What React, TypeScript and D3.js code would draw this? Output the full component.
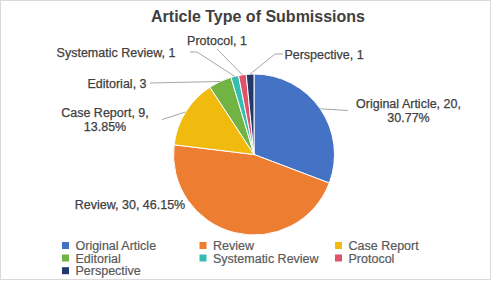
import React from "react";
import * as d3 from "d3";

const categories = [
  "Original Article",
  "Review",
  "Case Report",
  "Editorial",
  "Systematic Review",
  "Protocol",
  "Perspective",
];
const counts = [20, 30, 9, 3, 1, 1, 1];
const showPercent = [true, true, true, false, false, false, false];
const colors = ["#4472C4", "#ED7D31", "#F0BA0E", "#72B443", "#35BDB1", "#E0516A", "#22396A"];
const title = "Article Type of Submissions";

// label layout (positions of label text, leader elbow points)
const labelLayout = [
  { x: 408.5, y: 103, anchor: "middle", split: true, elbow: [[348, 110.5]] },
  { x: 130, y: 204, anchor: "middle", split: false, elbow: null },
  { x: 105, y: 112.5, anchor: "middle", split: true, elbow: [[162, 119.5]] },
  { x: 117, y: 83, anchor: "middle", split: false, elbow: [[150, 83]] },
  { x: 116, y: 52, anchor: "middle", split: false, elbow: [[190, 52], [197, 52]] },
  { x: 217, y: 40, anchor: "middle", split: false, elbow: [[217, 49]] },
  { x: 324, y: 54, anchor: "middle", split: false, elbow: [[283, 54], [275, 54]] },
];

const W = 493;
const H = 281;
const cx = 254;
const cy = 154.5;
const R = 80.5;
const FONT = "'Liberation Sans', Arial, sans-serif";

export default function App() {
  const total = d3.sum(counts);
  const pie = d3.pie<number>().sort(null).value((d) => d).startAngle(0).endAngle(2 * Math.PI);
  const arcs = pie(counts);
  const arcGen = d3.arc<d3.PieArcDatum<number>>().innerRadius(0).outerRadius(R);
  const edgeGen = d3.arc<d3.PieArcDatum<number>>().innerRadius(R).outerRadius(R);
  const fmt = d3.format(".2%");

  const legendCols = [62, 199.5, 335];
  const legendRows = [245.5, 258, 270.7];

  return (
    <svg width={W} height={H} style={{ position: "absolute", left: 0, top: 0 }} fontFamily={FONT}>
      <rect x={0} y={0} width={W} height={H} fill="#ffffff" />
      <rect x={0.5} y={0.5} width={490} height={279} fill="none" stroke="#D9D9D9" strokeWidth={1} />
      <text x={258} y={21.8} textAnchor="middle" fontSize={16} fontWeight="bold" fill="#404040">
        {title}
      </text>
      <g transform={`translate(${cx},${cy})`}>
        {arcs.map((a, i) => (
          <path key={i} d={arcGen(a) || ""} fill={colors[i]} stroke="#ffffff" strokeWidth={1} />
        ))}
      </g>
      {arcs.map((a, i) => {
        const L = labelLayout[i];
        if (!L.elbow) return null;
        const c = edgeGen.centroid(a);
        const pts = [...L.elbow, [c[0] + cx, c[1] + cy]];
        return (
          <polyline
            key={"l" + i}
            points={pts.map((p) => p.join(",")).join(" ")}
            fill="none"
            stroke="#A6A6A6"
            strokeWidth={1}
          />
        );
      })}
      {arcs.map((a, i) => {
        const L = labelLayout[i];
        const base = `${categories[i]}, ${counts[i]}`;
        const pct = fmt(counts[i] / total);
        const common = {
          textAnchor: L.anchor as any,
          fontSize: 12.5,
          fill: "#404040",
          stroke: "#404040",
          strokeWidth: 0.25,
        };
        if (showPercent[i] && L.split) {
          return (
            <text key={"t" + i} {...common}>
              <tspan x={L.x} y={L.y + 4.5}>{base + ","}</tspan>
              <tspan x={L.x} y={L.y + 18.5}>{pct}</tspan>
            </text>
          );
        }
        const txt = showPercent[i] ? `${base}, ${pct}` : base;
        return (
          <text key={"t" + i} x={L.x} y={L.y + 4.5} {...common}>
            {txt}
          </text>
        );
      })}
      {categories.map((c, i) => {
        const col = i % 3;
        const row = Math.floor(i / 3);
        const x = legendCols[col];
        const y = legendRows[row];
        return (
          <g key={"g" + i}>
            <rect x={x} y={y - 3.5} width={7} height={7} fill={colors[i]} />
            <text x={x + 13.5} y={y + 4.5} fontSize={12.5} fill="#595959" stroke="#595959" strokeWidth={0.2}>
              {c}
            </text>
          </g>
        );
      })}
    </svg>
  );
}
